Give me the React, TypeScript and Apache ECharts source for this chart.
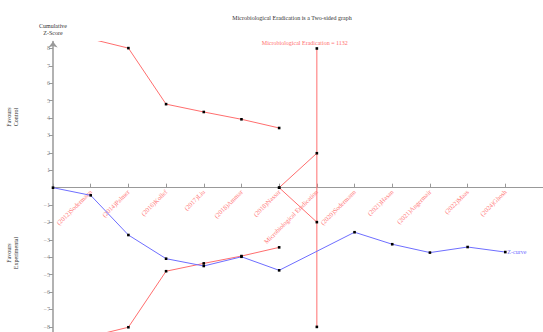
import React, { useEffect, useRef } from "react";
import * as echarts from "echarts";

// Trial sequence: study labels along the cumulative information axis
const studyLabels = [
  "(2012)Sodermann",
  "(2014)Palmer",
  "(2016)Kollef",
  "(2017)Liu",
  "(2018)Ammar",
  "(2018)Nassar",
  "Microbiological Eradication",
  "(2020)Sodermann",
  "(2021)Hasan",
  "(2021)Angermair",
  "(2022)Maas",
  "(2024)Ghosh",
];

// Monitoring boundary (upper), mirrored for the lower side
const boundaryX = [1, 2, 3, 4, 5, 6];
const boundaryZ = [8.55, 8.02, 4.8, 4.35, 3.93, 3.43];

// Futility wedge from the last boundary point to the required information size
const futilityX = [6, 7];
const futilityZ = [0, 1.98];

// Required information size
const risPosition = 7;
const risValue = 1132;
const risZ = 8;

// Cumulative Z-curve
const zCurveX = [0, 1, 2, 3, 4, 5, 6, 8, 9, 10, 11, 12];
const zCurveZ = [0, -0.44, -2.72, -4.08, -4.5, -3.97, -4.75, -2.56, -3.25, -3.73, -3.41, -3.7];

const yTicks = [-8, -7, -6, -5, -4, -3, -2, -1, 1, 2, 3, 4, 5, 6, 7, 8];

const RED = "#ff6e6e";
const BLUE = "#6e6eff";
const FONT = "Liberation Serif";

// Plot frame; the y range runs past the lower edge of the page
const Y_MIN = -9;
const Y_MAX = 8.4;
const GRID_TOP = 41.5;
const GRID_HEIGHT = 302.8;

export default function App() {
  const ref = useRef<HTMLDivElement>(null);

  useEffect(() => {
    if (!ref.current) return;
    const chart = echarts.init(ref.current, undefined, { renderer: "svg" });

    const marker = {
      symbol: "rect",
      symbolSize: 2.6,
      itemStyle: { color: "#000" },
    };

    const upper = boundaryX.map((x, i) => [x, boundaryZ[i]]);
    const lower = boundaryX.map((x, i) => [x, -boundaryZ[i]]);
    const futUp = futilityX.map((x, i) => [x, futilityZ[i]]);
    const futDown = futilityX.map((x, i) => [x, -futilityZ[i]]);
    const zCurve = zCurveX.map((x, i) => [x, zCurveZ[i]]);

    // shift the x axis (line, ticks and labels) up to Z = 0
    const zeroOffset = -GRID_HEIGHT * (0 - Y_MIN) / (Y_MAX - Y_MIN);

    chart.setOption({
      animation: false,
      backgroundColor: "#fff",
      textStyle: { fontFamily: FONT },
      title: {
        text: "Microbiological Eradication is a Two-sided graph",
        left: 287,
        top: 10,
        textAlign: "center",
        textStyle: { fontFamily: FONT, fontSize: 6, fontWeight: "normal", color: "#333" },
      },
      graphic: [
        {
          type: "text",
          x: 12,
          y: 117,
          rotation: Math.PI / 2,
          style: {
            text: "Favours\nControl",
            fontFamily: FONT,
            fontSize: 6,
            lineHeight: 7,
            fill: "#333",
            align: "center",
            verticalAlign: "middle",
          },
        },
        {
          type: "text",
          x: 12,
          y: 253,
          rotation: Math.PI / 2,
          style: {
            text: "Favours\nExperimental",
            fontFamily: FONT,
            fontSize: 6,
            lineHeight: 7,
            fill: "#333",
            align: "center",
            verticalAlign: "middle",
          },
        },
      ],
      grid: {
        left: 53,
        top: GRID_TOP,
        width: 490,
        height: GRID_HEIGHT,
        containLabel: false,
        outerBoundsMode: "none",
      },
      xAxis: {
        type: "value",
        min: 0,
        max: 13,
        interval: 1,
        offset: zeroOffset,
        splitLine: { show: false },
        axisLine: { onZero: false, lineStyle: { color: "#999", width: 1.2 } },
        axisTick: { inside: true, length: 4, lineStyle: { color: "#999" } },
        axisLabel: {
          rotate: 45,
          margin: 3,
          fontSize: 6.5,
          fontFamily: FONT,
          color: "#ff7a7a",
          formatter: (v: number) => studyLabels[v - 1] ?? "",
        },
      },
      yAxis: {
        type: "value",
        min: Y_MIN,
        max: Y_MAX,
        interval: 1,
        name: "Cumulative\nZ-Score",
        nameLocation: "end",
        nameGap: 5,
        nameTextStyle: {
          fontFamily: FONT,
          fontSize: 6,
          lineHeight: 7,
          color: "#333",
          align: "center",
        },
        splitLine: { show: false },
        axisLine: {
          onZero: false,
          symbol: ["none", "arrow"],
          symbolSize: [7, 6],
          lineStyle: { color: "#999", width: 1.5 },
        },
        axisTick: { length: 4, customValues: yTicks, lineStyle: { color: "#999" } },
        axisLabel: {
          fontSize: 6,
          fontFamily: FONT,
          color: "#888",
          margin: 3,
          customValues: yTicks,
          formatter: (v: number) => (v < 0 ? "\u2212" + Math.abs(v) : String(v)),
        },
      },
      series: [
        {
          type: "line",
          data: upper,
          ...marker,
          lineStyle: { color: RED, width: 1 },
        },
        {
          type: "line",
          data: lower,
          ...marker,
          lineStyle: { color: RED, width: 1 },
        },
        {
          type: "line",
          data: futUp,
          ...marker,
          lineStyle: { color: RED, width: 1 },
        },
        {
          type: "line",
          data: futDown,
          ...marker,
          lineStyle: { color: RED, width: 1 },
        },
        {
          type: "line",
          data: [
            {
              value: [risPosition, risZ],
              label: {
                show: true,
                position: "top",
                offset: [-12, 0],
                distance: 1,
                formatter: `Microbiological Eradication = ${risValue}`,
                fontFamily: FONT,
                fontSize: 6,
                color: RED,
              },
            },
            [risPosition, -risZ],
          ],
          ...marker,
          lineStyle: { color: RED, width: 1 },
        },
        {
          type: "line",
          data: zCurve,
          ...marker,
          lineStyle: { color: BLUE, width: 1 },
          endLabel: {
            show: true,
            formatter: "Z-curve",
            fontFamily: FONT,
            fontSize: 6,
            color: BLUE,
            distance: 2,
          },
        },
      ],
    });

    return () => chart.dispose();
  }, []);

  return (
    <div
      ref={ref}
      style={{ position: "fixed", left: 0, top: 0, width: 543, height: 332 }}
    />
  );
}
